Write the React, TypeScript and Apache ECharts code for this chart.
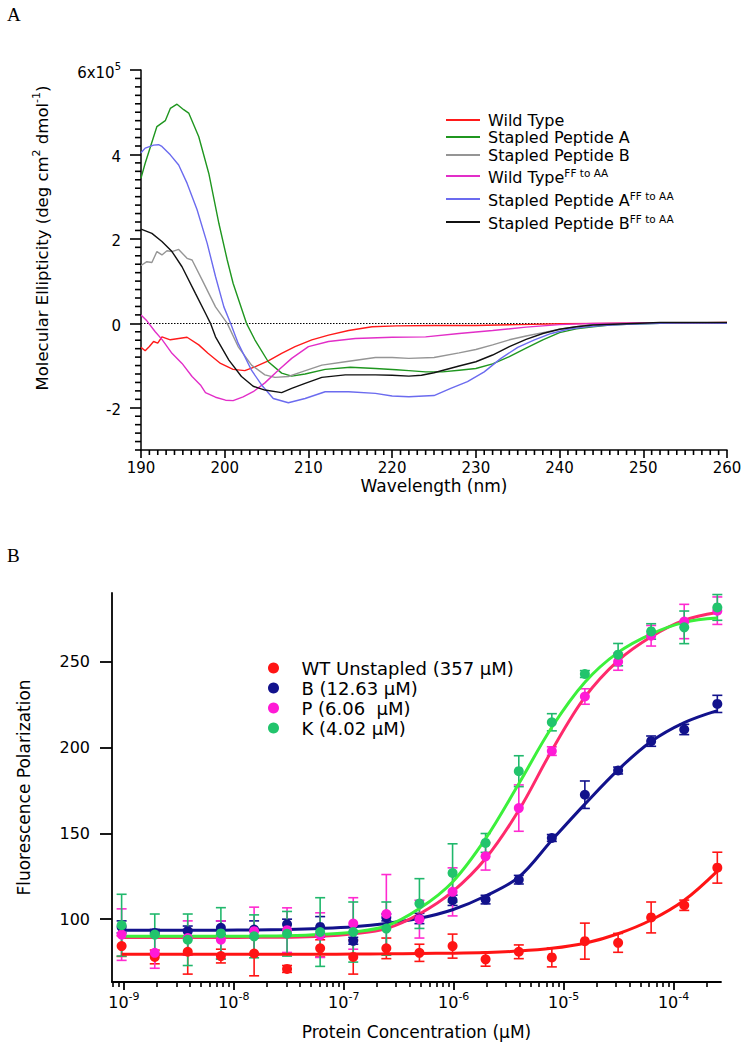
import React, { useEffect, useRef } from "react";
import * as echarts from "echarts";

// ---------------- Panel A: CD spectra (wavelength nm, ellipticity in 10^5 units) ----------------
const wildType: [number, number][] = [
  [190, -0.57], [190.5, -0.65], [191, -0.55], [191.5, -0.43], [192, -0.47], [192.5, -0.32], [193.5, -0.39],
  [194.5, -0.36], [195.5, -0.33], [196.9, -0.51], [198, -0.71], [199.5, -0.95], [201, -1.09], [202.4, -1.12],
  [203.6, -1.03], [205.2, -0.89], [206.8, -0.71], [208.4, -0.55], [210.4, -0.39], [212.4, -0.28], [214.8, -0.17],
  [217.6, -0.08], [220.5, -0.06], [225, -0.05], [230, -0.05], [235, -0.03], [240, -0.01], [245, 0], [250, 0.01],
  [255, 0.01], [260, 0.02],
];
const stapledA: [number, number][] = [
  [190, 3.44], [190.5, 3.79], [191.9, 4.66], [192.9, 4.8], [193.5, 5.09], [194.3, 5.19], [195.1, 5.06], [195.7, 4.98],
  [196.9, 4.42], [198.1, 3.55], [199.3, 2.37], [200.3, 1.5], [201, 0.95], [202.6, 0], [203.6, -0.39], [205.2, -0.91],
  [206.8, -1.18], [208, -1.25], [209.6, -1.2], [212, -1.09], [215, -1.04], [218, -1.07], [220.5, -1.1], [222, -1.12],
  [224, -1.15], [226, -1.15], [228, -1.11], [230, -1.07], [232, -0.96], [234, -0.79], [236, -0.59], [238, -0.39],
  [240, -0.22], [242, -0.13], [244, -0.08], [246, -0.04], [248, -0.02], [252, 0], [256, 0.01], [260, 0.01],
];
const stapledB: [number, number][] = [
  [190, 1.37], [190.7, 1.46], [191.3, 1.44], [191.9, 1.7], [192.5, 1.62], [193.1, 1.72], [193.7, 1.7], [194.5, 1.75],
  [195.5, 1.54], [196.1, 1.5], [197.3, 1.03], [198.9, 0.39], [200.3, 0], [201.6, -0.55], [203.2, -0.99], [204.8, -1.22],
  [206, -1.28], [207.6, -1.26], [209.2, -1.15], [211.6, -0.99], [214.4, -0.91], [218, -0.81], [220, -0.81], [222, -0.83],
  [225, -0.81], [228, -0.7], [230, -0.62], [232, -0.51], [234, -0.39], [236, -0.3], [238, -0.22], [240, -0.14],
  [242, -0.08], [244, -0.02], [248, 0], [252, 0.01], [256, 0.01], [260, 0.01],
];
const wildTypeFF: [number, number][] = [
  [190, 0.2], [190.7, 0.06], [191.7, -0.2], [192.5, -0.38], [193.7, -0.71], [194.9, -0.95], [196.1, -1.26],
  [197.1, -1.46], [197.7, -1.64], [198.9, -1.75], [200.1, -1.82], [201, -1.83], [202.2, -1.74], [203.4, -1.62],
  [204.8, -1.41], [206.4, -1.11], [208, -0.83], [210, -0.55], [212.4, -0.43], [215.6, -0.36], [220, -0.33],
  [224, -0.32], [228, -0.24], [232, -0.17], [236, -0.09], [240, -0.03], [244, 0], [250, 0.01], [255, 0.01], [260, 0.01],
];
const stapledAFF: [number, number][] = [
  [190, 4.04], [190.5, 4.15], [191.5, 4.22], [192.1, 4.23], [192.5, 4.19], [193.5, 3.99], [194.5, 3.75], [195.5, 3.32],
  [196.7, 2.69], [197.9, 1.9], [198.9, 1.11], [199.9, 0.39], [200.7, 0], [201.6, -0.47], [203.2, -1.11], [204.4, -1.46],
  [205.8, -1.78], [207.6, -1.88], [209.6, -1.78], [212, -1.62], [214.8, -1.62], [218, -1.66], [220, -1.72], [222, -1.74],
  [225, -1.71], [227, -1.54], [229, -1.38], [231, -1.15], [233, -0.83], [235, -0.57], [237, -0.39], [239, -0.24],
  [241, -0.14], [243, -0.09], [245, -0.05], [248, -0.02], [252, 0], [256, 0.01], [260, 0],
];
const stapledBFF: [number, number][] = [
  [190, 2.23], [191.3, 2.13], [192.5, 1.94], [193.7, 1.7], [194.9, 1.34], [196.5, 0.71], [197.7, 0.24], [198.3, 0],
  [198.9, -0.32], [200.5, -0.87], [202, -1.26], [203.4, -1.49], [204.8, -1.58], [206.8, -1.64], [208, -1.54],
  [209.6, -1.42], [211.6, -1.28], [214.4, -1.22], [218, -1.22], [220, -1.23], [222, -1.25], [223.5, -1.23],
  [225, -1.17], [228, -1.01], [230, -0.91], [232, -0.75], [234, -0.55], [236, -0.38], [238, -0.24], [240, -0.14],
  [242, -0.08], [244, -0.04], [248, -0.01], [252, 0.02], [256, 0.02], [260, 0.02],
];
const cdSeriesNames = [
  "Wild Type",
  "Stapled Peptide A",
  "Stapled Peptide B",
  "Wild Type FF to AA",
  "Stapled Peptide A FF to AA",
  "Stapled Peptide B FF to AA",
];
const cdYLabelValues = [-2, 0, 2, 4, 6];

// ---------------- Panel B: fluorescence polarization ----------------
const concentrations = [
  9.54e-10, 1.91e-9, 3.81e-9, 7.63e-9, 1.53e-8, 3.05e-8, 6.1e-8, 1.22e-7, 2.44e-7, 4.88e-7, 9.77e-7, 1.95e-6,
  3.91e-6, 7.81e-6, 1.56e-5, 3.13e-5, 6.25e-5, 1.25e-4, 2.5e-4,
];
const wtValues = [84.3, 78, 81, 78.5, 80, 71, 83, 78, 83, 80.4, 84.3, 76.6, 81, 77.7, 87.2, 86.2, 101, 108.1, 130];
const wtErrors = [6, 4, 13, 4, 13, 2, 5, 10, 6, 5, 7, 4, 4, 5.5, 10.5, 5.5, 9, 3, 9];
const wtFit = [79.5, 79.5, 79.5, 79.5, 79.5, 79.6, 79.6, 79.7, 79.8, 80, 80.2, 80.6, 81.4, 83, 86, 91.5, 99.5, 111, 128];

const bValues = [95.5, 92, 93, 95, 94, 97, 95.5, 87.4, 101, 100.4, 111, 111.4, 123, 147.3, 172.5, 186.6, 203.7, 210.5, 225.4];
const bErrors = [3.5, 2, 3, 4, 5, 3, 6, 2, 2, 3, 3, 2.5, 2.5, 2, 8, 2, 3, 3, 5];
const bFit = [93.5, 93.5, 93.5, 93.6, 93.7, 94, 94.6, 95.6, 97.5, 100.5, 105.5, 113.5, 124.5, 146, 167, 187, 203.5, 214.5, 221.5];

const pValues = [91, 80.4, 89, 88, 93, 93.6, 90.7, 97.5, 103, 100, 115.9, 136.6, 164.7, 197.9, 229.7, 250, 265.1, 273.4, 279.7];
const pErrors = [15, 9, 10, 11, 14, 13, 13, 15, 23, 11, 14, 8, 13.5, 2.5, 4.5, 5, 6, 10, 8];
const pFit = [89.3, 89.3, 89.3, 89.3, 89.4, 89.5, 90, 91.5, 94.5, 103, 116, 135.3, 163.4, 198.3, 229.3, 250.6, 264.5, 274.2, 278.7];

const kValues = [96.5, 91, 88, 91.7, 90, 91.5, 92.5, 92.5, 94.5, 109.1, 126.9, 144.4, 186.2, 214.7, 242.8, 254.1, 267.6, 270, 281.6];
const kErrors = [18, 12, 15, 15, 12.5, 13, 20, 17.5, 15.5, 14.5, 17, 5.5, 9, 5, 2, 6.5, 4.5, 9.5, 7.5];
const kFit = [90, 90, 90, 90, 90.1, 90.3, 91, 92.5, 96, 106.2, 121.7, 146.9, 178.9, 211.8, 238, 255.4, 266.1, 272.9, 275.4];

const fpNames = ["WT Unstapled (357 μM)", "B (12.63 μM)", "P (6.06  μM)", "K (4.02 μM)"];
const fpYLabelValues = [100, 150, 200, 250];
const fpDecades = [-9, -8, -7, -6, -5, -4];
const fpMinorMultipliers = [2, 3, 4, 5, 6, 7, 8, 9];

// ---------------- styles / layout ----------------
const FONT = "DejaVu Sans";
const cdColors = ["#ff1a1a", "#1f961f", "#959595", "#e22ec8", "#6b6bef", "#111111"];
const fpPointColors = ["#ff1414", "#12128c", "#ff1ad6", "#22c46c"];
const fpBarColors = ["#ff1414", "#12128c", "#ff2ad0", "#20b86c"];
const fpFitColors = ["#ff1414", "#12128c", "#ff2a6c", "#3cf03c"];
const cdLegendRowCenters = [115.7, 132.3, 150, 172.7, 195.7, 218.3];

const GRID_A = { left: 141, top: 70, width: 586, height: 380 };
const GRID_B = { left: 112, top: 593, width: 609, height: 389 };

function buildOption() {
  const cdData = [wildType, stapledA, stapledB, wildTypeFF, stapledAFF, stapledBFF];
  const xMin = Math.log10(7.8e-10);
  const xMax = Math.log10(2.7e-4);
  const minorTicks: number[] = [];
  for (const d of [-10, ...fpDecades]) {
    for (const m of fpMinorMultipliers) {
      const v = d + Math.log10(m);
      if (v > xMin && v < xMax) minorTicks.push(v);
    }
  }
  // minor tick positions for panel A (every 1 nm, every 0.2 units)
  const cdXMinor: number[] = [];
  for (let k = 0; k <= 70; k++) if (k % 10 !== 0) cdXMinor.push(190 + k);
  const cdYMinor: number[] = [];
  for (let k = 0; k <= 45; k++) if (k % 10 !== 5) cdYMinor.push(Math.round((-3 + k * 0.2) * 10) / 10);

  const logX = concentrations.map((c) => Math.log10(c));

  const series: any[] = [];
  cdData.forEach((d, i) => {
    const s: any = {
      type: "line",
      name: cdSeriesNames[i],
      xAxisIndex: 0,
      yAxisIndex: 0,
      data: d,
      showSymbol: false,
      symbol: "none",
      lineStyle: { color: cdColors[i], width: 1.4 },
      itemStyle: { color: cdColors[i] },
      z: 3 + (i === 5 ? 1 : 0),
    };
    if (i === 0) {
      s.markLine = {
        silent: true,
        symbol: ["none", "none"],
        label: { show: false },
        lineStyle: { color: "#000", type: [1.5, 1.5], width: 1.2 },
        data: [{ yAxis: 0 }],
        z: 1,
      };
    }
    series.push(s);
  });

  // minor ticks for panel A, drawn through the axes' own scales
  const tickStyle = { stroke: "#000", lineWidth: 1.6 };
  series.push({
    type: "custom",
    name: "cd x minor ticks",
    xAxisIndex: 0,
    yAxisIndex: 0,
    clip: false,
    silent: true,
    encode: { x: 0, y: 1 },
    data: cdXMinor.map((v) => [v, -3]),
    renderItem: (params: any, api: any) => {
      const p = api.coord([api.value(0), api.value(1)]);
      return { type: "line", shape: { x1: p[0], y1: p[1], x2: p[0], y2: p[1] + 5 }, style: tickStyle };
    },
    z: 5,
  });
  series.push({
    type: "custom",
    name: "cd y minor ticks",
    xAxisIndex: 0,
    yAxisIndex: 0,
    clip: false,
    silent: true,
    encode: { x: 0, y: 1 },
    data: cdYMinor.map((v) => [190, v]),
    renderItem: (params: any, api: any) => {
      const p = api.coord([api.value(0), api.value(1)]);
      return { type: "line", shape: { x1: p[0] - 6, y1: p[1], x2: p[0], y2: p[1] }, style: tickStyle };
    },
    z: 5,
  });

  const errRender = (params: any, api: any) => {
    const x = api.value(0);
    const pLo = api.coord([x, api.value(2)]);
    const pHi = api.coord([x, api.value(3)]);
    const color = api.visual("color");
    const w = 5;
    const style = { stroke: color, lineWidth: 1.6 };
    return {
      type: "group",
      children: [
        { type: "line", shape: { x1: pLo[0], y1: pLo[1], x2: pHi[0], y2: pHi[1] }, style },
        { type: "line", shape: { x1: pLo[0] - w, y1: pLo[1], x2: pLo[0] + w, y2: pLo[1] }, style },
        { type: "line", shape: { x1: pHi[0] - w, y1: pHi[1], x2: pHi[0] + w, y2: pHi[1] }, style },
      ],
    };
  };

  const fpSets = [
    { values: wtValues, errors: wtErrors, fit: wtFit },
    { values: bValues, errors: bErrors, fit: bFit },
    { values: pValues, errors: pErrors, fit: pFit },
    { values: kValues, errors: kErrors, fit: kFit },
  ];
  fpSets.forEach((s, i) => {
    series.push({
      type: "custom",
      name: fpNames[i] + " error",
      xAxisIndex: 1,
      yAxisIndex: 1,
      renderItem: errRender,
      itemStyle: { color: fpBarColors[i] },
      encode: { x: 0, y: [1, 2, 3] },
      data: s.values.map((v, j) => [logX[j], v, v - s.errors[j], v + s.errors[j]]),
      silent: true,
      z: 2,
    });
  });
  fpSets.forEach((s, i) => {
    series.push({
      type: "line",
      name: fpNames[i] + " fit",
      xAxisIndex: 1,
      yAxisIndex: 1,
      data: s.fit.map((v, j) => [logX[j], v]),
      smooth: 0.35,
      showSymbol: false,
      symbol: "none",
      lineStyle: { color: fpFitColors[i], width: 3 },
      itemStyle: { color: fpFitColors[i] },
      silent: true,
      z: 3,
    });
  });
  fpSets.forEach((s, i) => {
    series.push({
      type: "scatter",
      name: fpNames[i],
      xAxisIndex: 1,
      yAxisIndex: 1,
      data: s.values.map((v, j) => [logX[j], v]),
      symbol: "circle",
      symbolSize: 10,
      itemStyle: { color: fpPointColors[i], opacity: 1 },
      clip: false,
      z: 4,
    });
  });

  const axisLineBlack = (w: number) => ({ show: true, onZero: false, lineStyle: { color: "#000", width: w } });

  const cdRich = {
    n: { fontSize: 16, lineHeight: 17, fontFamily: FONT, color: "#000" },
    b: { fontSize: 16, lineHeight: 17, padding: [4, 0, 2, 0], fontFamily: FONT, color: "#000" },
    s: { fontSize: 10.5, lineHeight: 11, verticalAlign: "top", fontFamily: FONT, color: "#000" },
  };
  const suffix = " FF to AA";
  const cdLegends = cdSeriesNames.map((name, i) => {
    const hasSup = name.endsWith(suffix);
    return {
      data: [name],
      orient: "vertical",
      left: 441,
      top: Math.round(cdLegendRowCenters[i] - (hasSup ? 12.5 : 8.5)),
      icon: "rect",
      itemWidth: 34,
      itemHeight: 2,
      selectedMode: false,
      formatter: (nm: string) =>
        nm.endsWith(suffix) ? "{b|" + nm.slice(0, -suffix.length) + "}{s|FF to AA}" : "{n|" + nm + "}",
      textStyle: { fontFamily: FONT, color: "#000", padding: [0, 0, 0, 3], rich: cdRich },
    };
  });

  return {
    animation: false,
    backgroundColor: "#fff",
    textStyle: { fontFamily: FONT, color: "#000" },
    graphic: [
      { type: "text", left: 7, top: 5, style: { text: "A", fontSize: 19, fontFamily: "Liberation Serif", fill: "#000" } },
      { type: "text", left: 7, top: 546, style: { text: "B", fontSize: 19, fontFamily: "Liberation Serif", fill: "#000" } },
    ],
    grid: [GRID_A, GRID_B],
    legend: [
      ...cdLegends,
      {
        data: fpNames,
        orient: "vertical",
        left: 263,
        top: 653,
        icon: "circle",
        itemWidth: 12,
        itemHeight: 11,
        itemGap: 0,
        selectedMode: false,
        textStyle: { fontFamily: FONT, fontSize: 18, lineHeight: 20, color: "#000", padding: [0, 0, 0, 17] },
      },
    ],
    xAxis: [
      {
        type: "value",
        gridIndex: 0,
        position: "bottom",
        min: 190,
        max: 260,
        interval: 10,
        axisLine: axisLineBlack(1.5),
        axisTick: { show: true, length: 8, lineStyle: { color: "#000", width: 1.6 } },
        axisLabel: { fontSize: 15, color: "#000", margin: 10, fontFamily: FONT },
        splitLine: { show: false },
        name: "Wavelength (nm)",
        nameLocation: "middle",
        nameGap: 27,
        nameTextStyle: { fontSize: 17, color: "#000", fontFamily: FONT },
      },
      {
        type: "value",
        gridIndex: 1,
        position: "bottom",
        min: xMin,
        max: xMax,
        axisLine: axisLineBlack(1.8),
        axisTick: { show: true, length: 8, customValues: fpDecades, lineStyle: { color: "#000", width: 1.8 } },
        axisLabel: {
          customValues: fpDecades,
          margin: 9,
          formatter: (v: number) => "{b|10}{s|" + Math.round(v) + "}",
          rich: {
            b: { fontSize: 16, lineHeight: 18, padding: [5, 0, 0, 0], fontFamily: FONT, color: "#000" },
            s: { fontSize: 11, lineHeight: 12, verticalAlign: "top", fontFamily: FONT, color: "#000" },
          },
        },
        splitLine: { show: false },
        name: "Protein Concentration (μM)",
        nameLocation: "middle",
        nameGap: 41,
        nameTextStyle: { fontSize: 17, color: "#000", fontFamily: FONT },
      },
      {
        // log minor ticks placed on the bottom edge of panel B
        type: "value",
        gridIndex: 1,
        position: "top",
        offset: -GRID_B.height,
        min: xMin,
        max: xMax,
        axisLine: { show: false, onZero: false },
        axisTick: { show: true, inside: true, length: 5, customValues: minorTicks, lineStyle: { color: "#000", width: 1.6 } },
        axisLabel: { show: false },
        splitLine: { show: false },
      },
    ],
    yAxis: [
      {
        type: "value",
        gridIndex: 0,
        position: "left",
        min: -3,
        max: 6,
        axisLine: axisLineBlack(1.5),
        axisTick: { show: true, length: 11, customValues: cdYLabelValues, lineStyle: { color: "#000", width: 1.6 } },
        axisLabel: {
          customValues: cdYLabelValues,
          margin: 20,
          formatter: (v: number) => (v === 6 ? "{b|6x10}{s|5}" : "{b|" + v + "}"),
          rich: {
            b: { fontSize: 15, lineHeight: 17, padding: [5, 0, 0, 0], fontFamily: FONT, color: "#000" },
            s: { fontSize: 10, lineHeight: 11, verticalAlign: "top", fontFamily: FONT, color: "#000" },
          },
        },
        splitLine: { show: false },
        name: "{b|Molecular Ellipticity (deg cm}{s|2}{b| dmol}{s|-1}{b|)}",
        nameLocation: "middle",
        nameGap: 92,
        nameTextStyle: {
          padding: [0, 0, 0, 44],
          rich: {
            b: { fontSize: 16.5, lineHeight: 18, padding: [5, 0, 0, 0], fontFamily: FONT, color: "#000" },
            s: { fontSize: 11, lineHeight: 11, verticalAlign: "top", fontFamily: FONT, color: "#000" },
          },
        },
      },
      {
        type: "value",
        gridIndex: 1,
        position: "left",
        min: 63.4,
        max: 290,
        axisLine: axisLineBlack(1.8),
        axisTick: { show: true, length: 12, customValues: fpYLabelValues, lineStyle: { color: "#000", width: 1.8 } },
        axisLabel: { customValues: fpYLabelValues, fontSize: 16, margin: 22, color: "#000", fontFamily: FONT },
        splitLine: { show: false },
        name: "Fluorescence Polarization",
        nameLocation: "middle",
        nameGap: 80,
        nameTextStyle: { fontSize: 17, color: "#000", fontFamily: FONT },
      },
    ],
    series,
  };
}

export default function App() {
  const ref = useRef<HTMLDivElement>(null);
  useEffect(() => {
    document.body.style.margin = "0";
    const chart = echarts.init(ref.current!, null, { renderer: "svg" });
    chart.setOption(buildOption() as any);
    return () => chart.dispose();
  }, []);
  return <div ref={ref} style={{ width: 749, height: 1050, background: "#fff" }} />;
}
